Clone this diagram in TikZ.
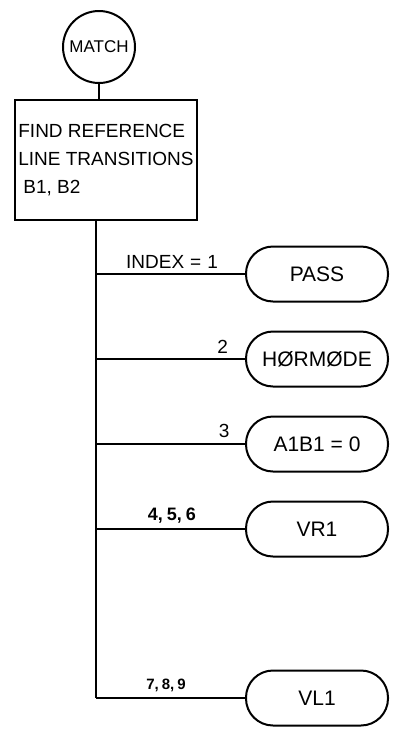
\documentclass[tikz,border=0pt]{standalone}
\usepackage{fontspec}
\setmainfont{Liberation Sans}
\usetikzlibrary{positioning}

\begin{document}
\begin{tikzpicture}[
x=1pt, y=-1pt,
line width=2pt,
start/.style={
draw,
circle,
minimum size=72pt,
inner sep=0pt,
font=\fontsize{17}{19}\selectfont
},
box/.style={
draw,
minimum width=182pt,
minimum height=120pt,
inner sep=2pt,
align=left,
font=\fontsize{19}{28}\selectfont
},
term/.style={
draw,
rounded corners=27pt,
minimum width=142pt,
minimum height=55pt,
font=\fontsize{21}{24}\selectfont
},
lbl/.style={
above=4pt,
inner sep=1pt,
font=\fontsize{19}{21}\selectfont
}
]
\useasboundingbox (0,0) rectangle (395,729);

\node[start] (match) at (99,47) {MATCH};

\node[box, below=15pt of match, xshift=7pt] (find)
{FIND REFERENCE\\LINE TRANSITIONS\\\hspace{5pt}B1, B2};

\node[term] (pass) at (317,274) {PASS};

\node[term, below=28pt of pass] (hormode) {HØRMØDE};

\node[term, below=28pt of hormode] (aibi) {A1B1 = 0};

\node[term, below=28pt of aibi] (vr) {VR1};

\node[term, below=112pt of vr] (vl) {VL1};

\coordinate (spine) at (96,0);

\draw (match) -- (match |- find.north);
\draw (spine |- find.south) -- (spine |- vl.west);

\draw (spine |- pass.west) -- node[lbl, pos=.51]
{INDEX\hspace{6pt}=\hspace{6pt}1} (pass.west);
\draw (spine |- hormode.west) -- node[lbl, pos=.85]{2} (hormode.west);
\draw (spine |- aibi.west) -- node[lbl, pos=.86]{3} (aibi.west);
\draw (spine |- vr.west) -- node[lbl, pos=.51, font=\fontsize{18}{20}\selectfont\bfseries]
{4,\hspace{4pt}5,\hspace{4pt}6} (vr.west);
\draw (spine |- vl.west) -- node[lbl, pos=.47, font=\fontsize{15}{17}\selectfont\bfseries]
{7,\hspace{3pt}8,\hspace{3pt}9} (vl.west);

\end{tikzpicture}
\end{document}
